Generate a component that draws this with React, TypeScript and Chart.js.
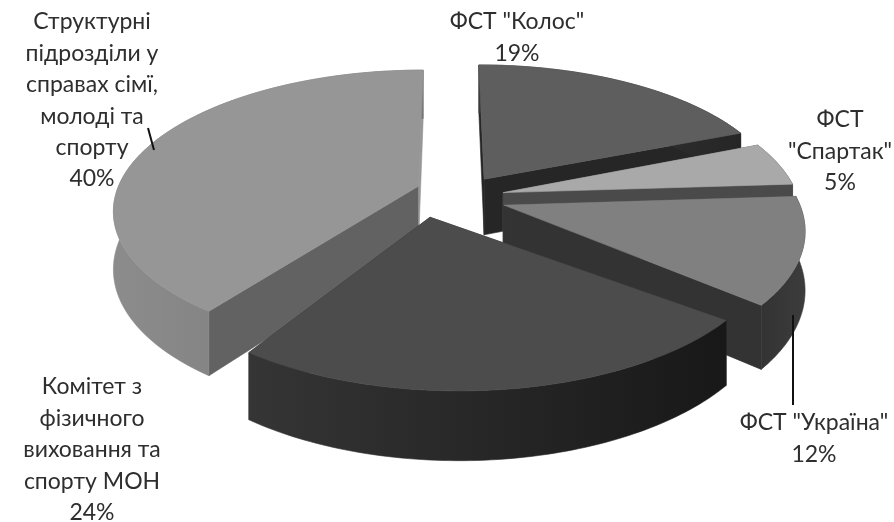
import React, { useEffect, useRef } from "react";
import { Chart, registerables } from "chart.js";

Chart.register(...registerables);

const categories = [
  'ФСТ "Колос"',
  'ФСТ "Спартак"',
  'ФСТ "Україна"',
  "Комітет з фізичного виховання та спорту МОН",
  "Структурні підрозділи у справах сімї, молоді та спорту",
];
const shares = [19, 5, 12, 24, 40];
const labelLines = [
  ['ФСТ "Колос"'],
  ["ФСТ", '"Спартак"'],
  ['ФСТ "Україна"'],
  ["Комітет з", "фізичного", "виховання та", "спорту МОН"],
  ["Структурні", "підрозділи у", "справах сімї,", "молоді та", "спорту"],
];

// Camera and per-slice look (not data)
const camera = { perspective: 0.16, squash: 0.45, depth: 56 };
const drawOrder = [0, 1, 4, 2, 3];
const sliceLook = [
  { ex: 0.07, ey: -0.04, apex: 0.008, top: "#5e5e5e", start: "#262626", end: "#262626", outer: ["#3a3a3a", "#262626"] },
  { ex: 0.115, ey: 0.06, apex: 0.025, top: "#a9a9a9", start: "#4a4a4a", end: "#4a4a4a", outer: ["#4a4a4a", "#4a4a4a"] },
  { ex: 0.11, ey: 0.15, apex: 0.03, top: "#808080", start: "#333333", end: "#333333", outer: ["#333333", "#3c3c3c"] },
  { ex: -0.005, ey: 0.235, apex: -0.095, top: "#4c4c4c", start: "#303030", end: "#303030", outer: ["#353535", "#181818"] },
  { ex: -0.147, ey: 0.012, apex: 0.005, top: "#969696", start: "#626262", end: "#969696", outer: ["#8c8c8c", "#757575"] },
];
const labelLook = [
  { x: 517, y: 22 },
  { x: 840, y: 120 },
  { x: 814, y: 423 },
  { x: 92, y: 387 },
  { x: 92, y: 22 },
];
const lineStep = 31.4;
const leaders = [
  [148, 128, 154, 150],
  [793, 315, 793, 405],
];

const pie3d = {
  id: "pie3d",
  beforeDatasetsDraw(chart: any) {
    const { ctx } = chart;
    const arcs = chart.getDatasetMeta(0).data;
    const first = arcs[0];
    const cx = first.x;
    const cy = first.y;
    const sx = first.outerRadius;
    const sy = sx * camera.squash;
    const project = (X: number, Y: number, Z: number) => {
      const w = 1 - camera.perspective * Y;
      return [cx + (sx * X) / w, cy + (sy * Y + camera.depth * Z) / w];
    };
    const fillPoly = (pts: number[][], fill: any) => {
      ctx.beginPath();
      pts.forEach((p, i) => (i ? ctx.lineTo(p[0], p[1]) : ctx.moveTo(p[0], p[1])));
      ctx.closePath();
      ctx.fillStyle = fill;
      ctx.strokeStyle = fill;
      ctx.lineWidth = 0.6;
      ctx.fill();
      ctx.stroke();
    };
    drawOrder.forEach((i) => {
      const arc = arcs[i];
      const look = sliceLook[i];
      const rim: number[][] = [];
      const steps = 80;
      for (let s = 0; s <= steps; s++) {
        const a = arc.startAngle + ((arc.endAngle - arc.startAngle) * s) / steps;
        rim.push([Math.cos(a) + look.ex, Math.sin(a) + look.ey]);
      }
      const apex = [look.ex + look.apex, look.ey];
      const at = (p: number[], z: number) => project(p[0], p[1], z);
      const a0 = rim[0];
      const a1 = rim[steps];
      fillPoly([at(apex, 0), at(a0, 0), at(a0, 1), at(apex, 1)], look.start);
      fillPoly([at(apex, 0), at(a1, 0), at(a1, 1), at(apex, 1)], look.end);
      const rimTop = rim.map((p) => at(p, 0));
      const rimLow = rim.map((p) => at(p, 1));
      const xs = rimTop.map((p) => p[0]);
      const grad = ctx.createLinearGradient(Math.min(...xs), 0, Math.max(...xs), 0);
      grad.addColorStop(0, look.outer[0]);
      grad.addColorStop(1, look.outer[1]);
      fillPoly([...rimTop, ...rimLow.reverse()], grad);
      fillPoly([at(apex, 0), ...rimTop], look.top);
    });
    ctx.save();
    ctx.strokeStyle = "#111111";
    ctx.lineWidth = 2;
    leaders.forEach(([x1, y1, x2, y2]) => {
      ctx.beginPath();
      ctx.moveTo(x1, y1);
      ctx.lineTo(x2, y2);
      ctx.stroke();
    });
    ctx.fillStyle = "#2e2e2e";
    ctx.font = '23px Lato, "Open Sans", sans-serif';
    ctx.textAlign = "center";
    ctx.textBaseline = "middle";
    labelLines.forEach((lines, i) => {
      const look = labelLook[i];
      [...lines, `${shares[i]}%`].forEach((t, n) => ctx.fillText(t, look.x, look.y + n * lineStep));
    });
    ctx.restore();
    return false;
  },
};

export default function App() {
  const ref = useRef<HTMLCanvasElement>(null);
  useEffect(() => {
    document.body.style.margin = "0";
    document.body.style.background = "#fff";
    const chart = new Chart(ref.current as HTMLCanvasElement, {
      type: "pie",
      data: {
        labels: categories,
        datasets: [{ data: shares, backgroundColor: sliceLook.map((s) => s.top), borderWidth: 0 }],
      },
      options: {
        responsive: false,
        animation: false,
        radius: 298,
        layout: { padding: { left: 28, bottom: 153 } },
        plugins: { legend: { display: false }, tooltip: { enabled: false } },
      } as any,
      plugins: [pie3d],
    });
    return () => chart.destroy();
  }, []);
  return <canvas ref={ref} width={894} height={522} style={{ display: "block" }} />;
}
